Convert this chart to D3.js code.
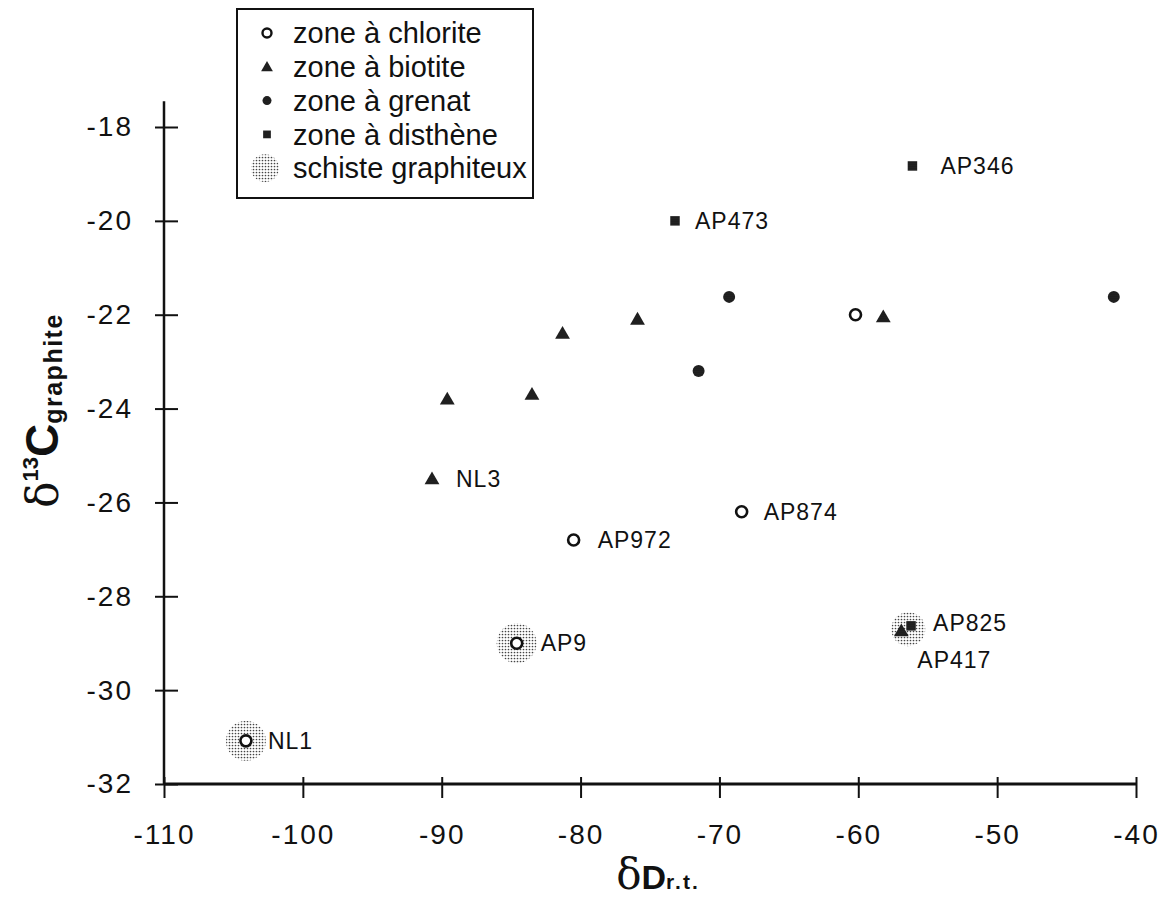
<!DOCTYPE html>
<html>
<head>
<meta charset="utf-8">
<script src="https://cdn.jsdelivr.net/npm/d3@7"></script>
<style>
  html, body { margin: 0; padding: 0; background: #fff; }
  svg { display: block; font-family: "Liberation Sans", Arial, Helvetica, sans-serif; }
</style>
</head>
<body>
<svg id="chart" width="1174" height="905"></svg>
<script>
// ---------- data ----------
const xTicks = [-110, -100, -90, -80, -70, -60, -50, -40];
const xTickLabels = ["-110", "-100", "-90", "-80", "-70", "-60", "-50", "-40"];
const yTicks = [-32, -30, -28, -26, -24, -22, -20, -18];
const yTickLabels = ["-32", "-30", "-28", "-26", "-24", "-22", "-20", "-18"];

// zone à chlorite (open circles)
const chloriteX = [-60.2, -68.4, -80.5, -84.6, -104.1];
const chloriteY = [-22.0, -26.2, -26.8, -29.0, -31.08];
const chloriteLabels = ["", "AP874", "AP972", "AP9", "NL1"];

// zone à biotite (triangles)
const biotiteX = [-58.2, -75.9, -81.3, -83.5, -89.6, -90.7, -56.9];
const biotiteY = [-22.05, -22.1, -22.4, -23.7, -23.8, -25.5, -28.74];
const biotiteLabels = ["", "", "", "", "", "NL3", "AP417"];

// zone à grenat (filled circles)
const grenatX = [-69.3, -71.5, -41.6];
const grenatY = [-21.62, -23.2, -21.62];

// zone à disthène (squares)
const disthX = [-56.1, -73.2, -56.2];
const disthY = [-18.83, -20.0, -28.63];
const disthLabels = ["AP346", "AP473", "AP825"];

// schiste graphiteux (stippled halos)
const schisteX = [-104.1, -84.6, -56.4];
const schisteY = [-31.08, -29.0, -28.7];

const legendLabels = ["zone à chlorite", "zone à biotite", "zone à grenat", "zone à disthène", "schiste graphiteux"];

// ---------- layout ----------
const svg = d3.select("#chart");
const x = d3.scaleLinear().domain([-110, -40]).range([164, 1136]);
const y = d3.scaleLinear().domain([-32, -18]).range([784, 127]);
const yAxisTop = -17.45;
const ink = "#111";

// stipple patterns
const defs = svg.append("defs");
const pat = defs.append("pattern").attr("id", "stipple").attr("patternUnits", "userSpaceOnUse")
  .attr("width", 3).attr("height", 3);
pat.append("circle").attr("cx", 1.5).attr("cy", 1.5).attr("r", 0.85).attr("fill", "#444");
const pat2 = defs.append("pattern").attr("id", "stippleDark").attr("patternUnits", "userSpaceOnUse")
  .attr("width", 2).attr("height", 2);
pat2.append("rect").attr("width", 2).attr("height", 2).attr("fill", "#111");
pat2.append("circle").attr("cx", 1).attr("cy", 1).attr("r", 0.45).attr("fill", "#888");

// ---------- axes ----------
const yAxis = d3.axisLeft(y).tickValues(yTicks)
  .tickFormat((d, i) => yTickLabels[i]).tickSize(9).tickPadding(22);
const gy = svg.append("g").attr("transform", `translate(${x(-110)},0)`).call(yAxis);
gy.select(".domain").remove();
gy.selectAll(".tick line").attr("x1", 14).attr("stroke", ink).attr("stroke-width", 2);
gy.selectAll(".tick text").attr("font-size", 28).attr("letter-spacing", 2)
  .attr("fill", ink).attr("font-family", "Liberation Sans, Arial, sans-serif");
svg.append("line").attr("x1", x(-110)).attr("x2", x(-110))
  .attr("y1", y(yAxisTop)).attr("y2", y(-32)).attr("stroke", ink).attr("stroke-width", 2.5);

const xAxis = d3.axisBottom(x).tickValues(xTicks)
  .tickFormat((d, i) => xTickLabels[i]).tickSize(14).tickPadding(26);
const gx = svg.append("g").attr("transform", `translate(0,${y(-32)})`).call(xAxis);
gx.select(".domain").remove();
gx.selectAll(".tick line").attr("y1", -7).attr("stroke", ink).attr("stroke-width", 2);
gx.selectAll(".tick text").attr("font-size", 28).attr("letter-spacing", 2)
  .attr("fill", ink).attr("font-family", "Liberation Sans, Arial, sans-serif");
svg.append("line").attr("x1", x(-110)).attr("x2", x(-40))
  .attr("y1", y(-32)).attr("y2", y(-32)).attr("stroke", ink).attr("stroke-width", 3);

// axis titles
const xt = svg.append("text").attr("x", 658).attr("y", 889).attr("text-anchor", "middle").attr("fill", ink);
xt.append("tspan").attr("font-size", 42).attr("font-family", "DejaVu Serif, serif").text("δ");
xt.append("tspan").attr("font-size", 34).attr("font-weight", "bold").text("D");
xt.append("tspan").attr("font-size", 21).attr("font-weight", "bold").attr("letter-spacing", 2).text("r.t.");

const yt = svg.append("text").attr("transform", "translate(58,508) rotate(-90)")
  .attr("text-anchor", "start").attr("fill", ink);
yt.append("tspan").attr("font-size", 44).attr("font-family", "DejaVu Serif, serif").text("δ");
yt.append("tspan").attr("font-size", 22).attr("font-weight", "bold").attr("dy", -20).text("13");
yt.append("tspan").attr("font-size", 46).attr("font-weight", "bold").attr("dy", 20).text("C");
yt.append("tspan").attr("font-size", 25).attr("font-weight", "bold").attr("letter-spacing", 1.5).attr("dy", 4).text("graphite");

// ---------- marks ----------
const tri = d3.symbol().type(d3.symbolTriangle).size(95);
const sq = d3.symbol().type(d3.symbolSquare).size(90);

const gm = svg.append("g");
// halos
gm.selectAll("circle.halo").data(schisteX).join("circle").attr("class", "halo")
  .attr("cx", (d, i) => x(d)).attr("cy", (d, i) => y(schisteY[i]))
  .attr("r", (d, i) => i === 2 ? 17 : 20).attr("fill", "url(#stipple)");

// disthène squares
gm.selectAll("path.sq").data(disthX).join("path").attr("class", "sq")
  .attr("d", sq).attr("transform", (d, i) => `translate(${x(d)},${y(disthY[i])})`)
  .attr("fill", "url(#stippleDark)");
// biotite triangles
gm.selectAll("path.tri").data(biotiteX).join("path").attr("class", "tri")
  .attr("d", tri).attr("transform", (d, i) => `translate(${x(d)},${y(biotiteY[i]) + 1})`)
  .attr("fill", "url(#stippleDark)");
// grenat filled circles
gm.selectAll("circle.gr").data(grenatX).join("circle").attr("class", "gr")
  .attr("cx", d => x(d)).attr("cy", (d, i) => y(grenatY[i])).attr("r", 6)
  .attr("fill", "url(#stippleDark)");
// chlorite open circles
gm.selectAll("circle.ch").data(chloriteX).join("circle").attr("class", "ch")
  .attr("cx", d => x(d)).attr("cy", (d, i) => y(chloriteY[i])).attr("r", 5.5)
  .attr("fill", "#fff").attr("stroke", ink).attr("stroke-width", 2.6);

// labels
const labelOffset = { "AP874": [22, 0], "AP972": [24, 0], "AP9": [24, 0], "NL1": [22, 0],
  "NL3": [24, 0], "AP417": [16, 29], "AP346": [28, 0], "AP473": [20, 0], "AP825": [22, -3] };
const labels = [];
chloriteLabels.forEach((l, i) => { if (l) labels.push([l, chloriteX[i], chloriteY[i]]); });
biotiteLabels.forEach((l, i) => { if (l) labels.push([l, biotiteX[i], biotiteY[i]]); });
disthLabels.forEach((l, i) => { if (l) labels.push([l, disthX[i], disthY[i]]); });
svg.append("g").selectAll("text").data(labels).join("text")
  .attr("x", d => x(d[1]) + labelOffset[d[0]][0])
  .attr("y", d => y(d[2]) + labelOffset[d[0]][1])
  .attr("dy", "0.36em").attr("font-size", 23).attr("letter-spacing", 1)
  .attr("fill", ink).text(d => d[0]);

// ---------- legend ----------
const lg = svg.append("g");
lg.append("rect").attr("x", 237).attr("y", 9).attr("width", 296).attr("height", 189)
  .attr("fill", "#fff").attr("stroke", ink).attr("stroke-width", 2);
const rowY = i => 33 + i * 33.8;
const symX = 267;
lg.append("circle").attr("cx", symX).attr("cy", rowY(0)).attr("r", 4.5)
  .attr("fill", "#fff").attr("stroke", ink).attr("stroke-width", 2.4);
lg.append("path").attr("d", d3.symbol().type(d3.symbolTriangle).size(60))
  .attr("transform", `translate(${symX},${rowY(1) + 1})`).attr("fill", "url(#stippleDark)");
lg.append("circle").attr("cx", symX).attr("cy", rowY(2)).attr("r", 4.5).attr("fill", "url(#stippleDark)");
lg.append("path").attr("d", d3.symbol().type(d3.symbolSquare).size(60))
  .attr("transform", `translate(${symX},${rowY(3)})`).attr("fill", "url(#stippleDark)");
lg.append("circle").attr("cx", symX - 2).attr("cy", rowY(4)).attr("r", 14).attr("fill", "url(#stipple)");
lg.selectAll("text").data(legendLabels).join("text")
  .attr("x", 293).attr("y", (d, i) => rowY(i)).attr("dy", "0.35em")
  .attr("font-size", 29).attr("fill", ink).text(d => d);
</script>
</body>
</html>
